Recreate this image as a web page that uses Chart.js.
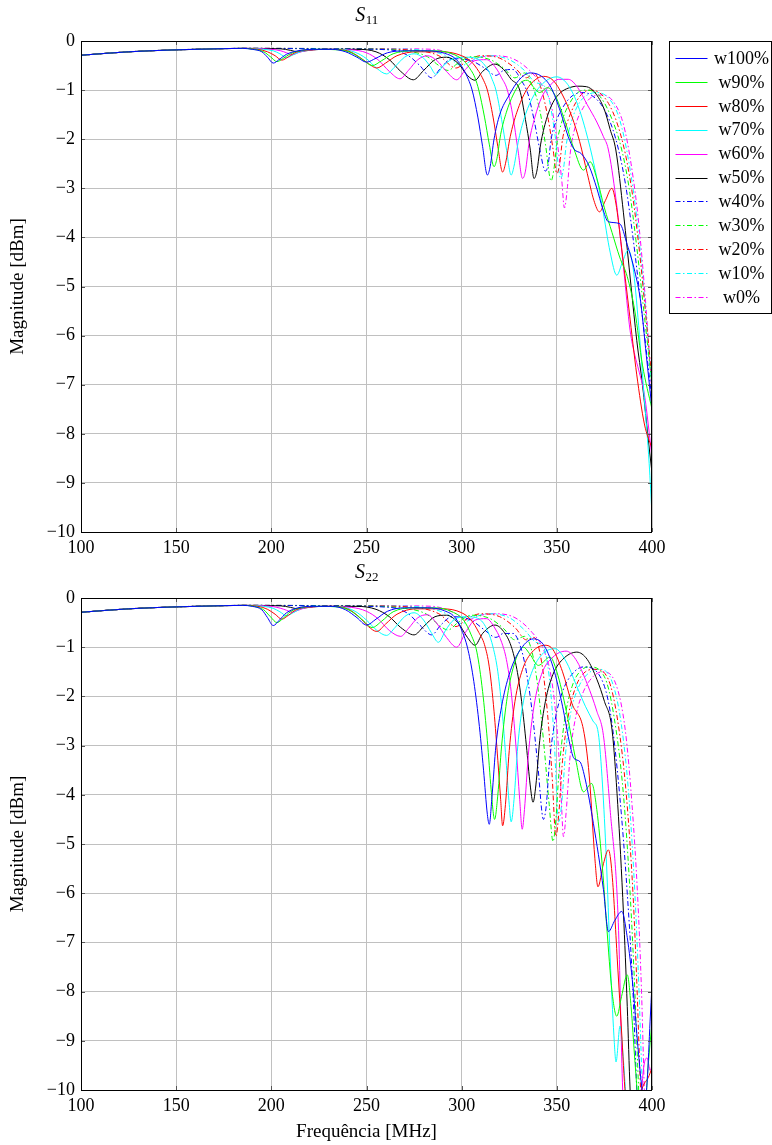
<!DOCTYPE html>
<html>
<head>
<meta charset="utf-8">
<script src="https://cdn.jsdelivr.net/npm/chart.js@4.4.1/dist/chart.umd.min.js"></script>
<style>
    body { margin: 0; background: #fff; }
    #box11 { position: absolute; left: 0; top: 0; width: 772px; height: 560px; }
    #box22 { position: absolute; left: 0; top: 560px; width: 772px; height: 585px; }
</style>
</head>
<body>
<div id="box11"><canvas id="chartS11"></canvas></div>
<div id="box22"><canvas id="chartS22"></canvas></div>
<script>
// axes
const xTicks = [100, 150, 200, 250, 300, 350, 400];
const yTicks = [0, -1, -2, -3, -4, -5, -6, -7, -8, -9, -10];
const seriesNames = ['w100%', 'w90%', 'w80%', 'w70%', 'w60%', 'w50%', 'w40%', 'w30%', 'w20%', 'w10%', 'w0%'];
const seriesColors = ['#0000ff', '#00ff00', '#ff0000', '#00ffff', '#ff00ff', '#000000', '#0000ff', '#00ff00', '#ff0000', '#00ffff', '#ff00ff'];

// common start (100-185 MHz), [freq MHz, dB]
const lowBand = [[100, -0.29], [125, -0.22], [150, -0.18], [175, -0.155], [185, -0.15]];

// S11
const s11W100 = [[190,-0.17],[195,-0.22],[198,-0.33],[201,-0.45],[204,-0.38],[208,-0.27],[214,-0.2],[222,-0.17],[232,-0.17],[239,-0.22],[245,-0.33],[250,-0.43],[255,-0.35],[261,-0.24],[270,-0.2],[282,-0.2],[291,-0.25],[297,-0.37],[301,-0.58],[303.5,-0.78],[305.5,-1.0],[308.5,-1.55],[311,-2.15],[313.5,-2.73],[315,-2.55],[317,-2.0],[320,-1.5],[325,-1.1],[330,-0.8],[336,-0.65],[342,-0.72],[347,-0.95],[352,-1.45],[356,-1.95],[359,-2.2],[363,-2.3],[367,-2.55],[371,-3.0],[374,-3.4],[377,-3.68],[383,-3.72],[387,-4.15],[391,-4.7],[394,-5.3],[397,-6.4],[400,-7.5]];
const s11W90 = [[191,-0.17],[196,-0.22],[199.5,-0.32],[203,-0.42],[206,-0.36],[210,-0.26],[216,-0.19],[225,-0.17],[235,-0.18],[242,-0.24],[248,-0.38],[253,-0.5],[258,-0.4],[264,-0.26],[274,-0.2],[286,-0.2],[295,-0.26],[301,-0.4],[305,-0.6],[307,-0.75],[309,-1.0],[312,-1.55],[314.5,-2.1],[317,-2.56],[318.5,-2.4],[320.5,-1.9],[323.5,-1.45],[327,-1.1],[331,-0.85],[334.5,-0.8],[338,-0.95],[341,-1.05],[345,-0.95],[349,-1.1],[354,-1.6],[359,-2.2],[364,-2.63],[367.5,-2.46],[371,-2.8],[375,-3.4],[379,-3.9],[383,-4.4],[387,-4.8],[391,-5.5],[395,-6.6],[400,-7.5]];
const s11W80 = [[193,-0.17],[198,-0.22],[202,-0.3],[205.5,-0.39],[209,-0.32],[213,-0.23],[220,-0.18],[230,-0.17],[240,-0.2],[246,-0.32],[251,-0.46],[255.4,-0.55],[260,-0.45],[266,-0.3],[276,-0.22],[290,-0.22],[300,-0.3],[305,-0.42],[309,-0.62],[311.5,-0.8],[313.5,-1.0],[316.5,-1.55],[319,-2.15],[321.5,-2.67],[323,-2.5],[325.5,-1.95],[329,-1.45],[334,-1.0],[339,-0.78],[343,-0.72],[348,-0.8],[353,-1.1],[358,-1.55],[362,-2.05],[366,-2.7],[369.5,-3.25],[372.4,-3.48],[375.5,-3.25],[378.9,-3.0],[381,-3.3],[384,-4.2],[388,-5.5],[392,-6.8],[396,-7.8],[400,-8.3]];
const s11W70 = [[196,-0.17],[201,-0.2],[204.5,-0.26],[208,-0.34],[211.5,-0.28],[216,-0.21],[224,-0.17],[236,-0.17],[244,-0.23],[250,-0.36],[255.5,-0.56],[260.5,-0.67],[265,-0.52],[270,-0.33],[275,-0.26],[280,-0.35],[283.5,-0.52],[286.5,-0.68],[290,-0.52],[295,-0.37],[302,-0.33],[309,-0.38],[314,-0.6],[316,-0.78],[318,-1.0],[321,-1.6],[323.5,-2.2],[326,-2.73],[327.5,-2.55],[330,-2.0],[333.5,-1.5],[338,-1.1],[344,-0.82],[350,-0.73],[355,-0.85],[360,-1.2],[365,-1.8],[370,-2.6],[374,-3.4],[378,-4.3],[381.5,-4.77],[384.5,-4.5],[387.5,-4.26],[390,-4.6],[393,-5.8],[396,-7.3],[398.5,-8.6],[400,-9.65]];
const s11W60 = [[200,-0.17],[205,-0.2],[208,-0.24],[211,-0.28],[214,-0.24],[219,-0.19],[228,-0.17],[242,-0.18],[250,-0.24],[256,-0.38],[262,-0.62],[267.6,-0.77],[272,-0.6],[277,-0.38],[282,-0.3],[287,-0.4],[292,-0.62],[297.4,-0.79],[302,-0.58],[307,-0.4],[313,-0.38],[318,-0.55],[321,-0.75],[324,-1.0],[327,-1.55],[329.5,-2.2],[332,-2.8],[333.5,-2.65],[335.5,-2.05],[338.5,-1.55],[342,-1.15],[347,-0.88],[351,-0.78],[356,-0.78],[361,-0.95],[366,-1.3],[371,-1.65],[374.5,-1.95],[377,-2.2],[381,-3.2],[385,-4.6],[388.5,-5.9],[391,-6.4],[393,-6.7],[396,-7.2],[398,-7.8],[400,-8.5]];
const s11W50 = [[205,-0.16],[210,-0.19],[214,-0.22],[218,-0.2],[226,-0.17],[245,-0.17],[255,-0.22],[262,-0.38],[268,-0.62],[274.6,-0.79],[280,-0.6],[286,-0.38],[292,-0.33],[298,-0.45],[303,-0.7],[307,-0.8],[311,-0.62],[317.5,-0.47],[322,-0.58],[326,-0.78],[330.5,-1.0],[333.5,-1.6],[336,-2.2],[338,-2.8],[339.5,-2.65],[341.5,-2.1],[344.5,-1.6],[348,-1.25],[352,-1.05],[356,-0.96],[361,-0.92],[365.5,-0.93],[370,-1.05],[375,-1.4],[378,-1.8],[381,-2.22],[385,-3.5],[389,-5.0],[392,-6.1],[395,-7.0],[398,-8.1],[400,-8.8]];
const s11W40 = [[230,-0.16],[262,-0.18],[272,-0.3],[278,-0.5],[284.3,-0.75],[289,-0.55],[295,-0.36],[305,-0.4],[312,-0.55],[318,-0.7],[322,-0.6],[327,-0.58],[331,-0.78],[335,-1.1],[338,-1.6],[341,-2.2],[344,-2.65],[345.5,-2.5],[347,-2.0],[350,-1.6],[354,-1.3],[358,-1.12],[363,-1.05],[368,-1.1],[375,-1.4],[381,-2.0],[386,-2.9],[390,-4.0],[394,-5.3],[397,-6.3],[400,-7.3]];
const s11W30 = [[240,-0.16],[270,-0.2],[282,-0.32],[288,-0.5],[292.8,-0.6],[298,-0.45],[305,-0.32],[315,-0.38],[322,-0.55],[328,-0.75],[333,-0.65],[337,-0.9],[341,-1.4],[344,-2.1],[347,-2.85],[348.5,-2.6],[350,-2.1],[353,-1.6],[357,-1.25],[361,-1.05],[365,-1.0],[372,-1.1],[378,-1.5],[384,-2.2],[388,-3.0],[392,-4.2],[396,-5.6],[400,-7.0]];
const s11W20 = [[250,-0.16],[275,-0.19],[288,-0.3],[297,-0.55],[303,-0.4],[310,-0.3],[320,-0.35],[328,-0.55],[334,-0.75],[338,-0.65],[342,-1.0],[345.5,-1.6],[348,-2.2],[350,-2.7],[351.5,-2.5],[353,-2.0],[356,-1.6],[360,-1.25],[364,-1.05],[368,-1.0],[375,-1.15],[381,-1.6],[386,-2.3],[390,-3.2],[394,-4.5],[397,-5.7],[400,-6.9]];
const s11W10 = [[260,-0.16],[280,-0.19],[292,-0.3],[300,-0.5],[306,-0.38],[314,-0.3],[325,-0.38],[333,-0.6],[339,-0.85],[343,-0.9],[346,-1.2],[349,-1.9],[352,-2.8],[353.5,-2.6],[355,-2.1],[358,-1.6],[362,-1.25],[366,-1.1],[371,-1.05],[378,-1.2],[383,-1.6],[388,-2.5],[392,-3.6],[396,-5.2],[400,-7.1]];
const s11W0 = [[270,-0.16],[285,-0.17],[296,-0.28],[303,-0.42],[310,-0.33],[318,-0.3],[328,-0.38],[337,-0.65],[343,-0.95],[347,-1.3],[350,-2.0],[352.5,-2.8],[354,-3.4],[355.5,-3.0],[357,-2.3],[360,-1.7],[364,-1.35],[368,-1.15],[374,-1.1],[380,-1.25],[385,-1.7],[389,-2.5],[393,-3.7],[397,-5.5],[400,-7.2]];

// S22
const s22W100 = [[190,-0.17],[195,-0.24],[198,-0.4],[201,-0.56],[204,-0.46],[208,-0.3],[214,-0.2],[222,-0.17],[232,-0.17],[239,-0.24],[245,-0.4],[250,-0.55],[255,-0.43],[261,-0.27],[270,-0.2],[282,-0.2],[291,-0.26],[297,-0.42],[300.5,-0.7],[303,-1.0],[306,-1.6],[309,-2.5],[311.5,-3.5],[313.5,-4.4],[314.5,-4.6],[316,-4.0],[318,-3.0],[321,-2.2],[325,-1.55],[330,-1.1],[337.7,-0.83],[343,-0.95],[348,-1.4],[353,-2.2],[357,-3.0],[359,-3.26],[362.2,-3.33],[365,-3.7],[369.2,-4.58],[374.5,-5.93],[377.1,-6.78],[380.5,-6.55],[384.1,-6.37],[387,-6.9],[390,-7.9],[392,-8.85],[394.5,-9.9],[396,-10.3],[397.5,-9.8],[399,-8.6],[400,-7.85]];
const s22W90 = [[191,-0.17],[196,-0.24],[199.5,-0.38],[203,-0.5],[206,-0.42],[210,-0.28],[216,-0.19],[225,-0.17],[235,-0.18],[242,-0.27],[248,-0.45],[253,-0.6],[258,-0.47],[264,-0.28],[274,-0.2],[286,-0.2],[295,-0.28],[301,-0.45],[305,-0.75],[308,-1.1],[311,-1.9],[313.5,-2.9],[315.5,-3.9],[317.3,-4.5],[319,-4.0],[321,-3.0],[324,-2.0],[328,-1.3],[332.4,-1.0],[336,-1.15],[340.3,-1.37],[346.4,-1.2],[350,-1.5],[355,-2.3],[360,-3.3],[364,-3.94],[368.3,-3.77],[371,-4.3],[374,-5.5],[376.2,-6.67],[379,-8.0],[381.5,-8.5],[384,-8.1],[387,-7.66],[389,-8.3],[391,-9.4],[393,-10.3],[396,-10.5],[398,-9.5],[400,-8.6]];
const s22W80 = [[193,-0.17],[198,-0.23],[202,-0.33],[205.5,-0.43],[209,-0.35],[213,-0.24],[220,-0.18],[230,-0.17],[240,-0.22],[246,-0.38],[251,-0.58],[255.4,-0.68],[260,-0.53],[266,-0.33],[276,-0.22],[290,-0.22],[300,-0.3],[305,-0.45],[309,-0.7],[312,-0.95],[314.5,-1.4],[317,-2.3],[319,-3.3],[320.5,-4.1],[321.5,-4.63],[323,-4.2],[325,-3.1],[328,-2.1],[332,-1.45],[337,-1.1],[343.8,-0.96],[348,-1.05],[353,-1.5],[358,-2.15],[364,-2.68],[367,-3.6],[370,-5.3],[371.6,-5.87],[374.5,-5.4],[377.1,-5.12],[379,-5.6],[382,-7.5],[384,-8.8],[386,-10.1],[388,-10.6],[392,-10.3],[395.5,-9.9],[398,-9.75],[400,-9.55]];
const s22W70 = [[196,-0.17],[201,-0.21],[204.5,-0.28],[208,-0.36],[211.5,-0.3],[216,-0.21],[224,-0.17],[236,-0.18],[244,-0.27],[250,-0.45],[255.5,-0.66],[260.5,-0.76],[265,-0.6],[270,-0.38],[275,-0.3],[280,-0.45],[284,-0.7],[287.8,-0.9],[291.5,-0.66],[296,-0.44],[303,-0.38],[310,-0.45],[314,-0.7],[316.5,-1.0],[319,-1.5],[321.5,-2.4],[323.5,-3.4],[325,-4.2],[326,-4.55],[327.5,-4.1],[329.5,-3.0],[332,-2.2],[336,-1.6],[341,-1.2],[349,-1.03],[355,-1.3],[360,-1.75],[365,-2.2],[369,-2.5],[371.8,-2.75],[374,-3.8],[376,-5.3],[378,-7.3],[380,-8.9],[381.1,-9.43],[383.2,-8.7],[385,-9.4],[386.5,-10.2],[390,-10.8],[400,-11]];
const s22W60 = [[200,-0.17],[205,-0.21],[208,-0.25],[211,-0.29],[214,-0.25],[219,-0.19],[228,-0.17],[242,-0.19],[250,-0.27],[256,-0.42],[262,-0.66],[268,-0.78],[272,-0.62],[277,-0.4],[282,-0.34],[287,-0.52],[292,-0.8],[297.4,-1.0],[302,-0.7],[307,-0.45],[313,-0.42],[318,-0.65],[321,-0.9],[323.5,-1.25],[326,-1.9],[328.5,-3.0],[330.5,-4.1],[331.8,-4.7],[333,-4.3],[335,-3.2],[338,-2.2],[342,-1.55],[348,-1.2],[354.9,-1.08],[360,-1.25],[366,-1.75],[371,-2.3],[374.5,-2.8],[378,-4.3],[382.3,-6.6],[384.6,-10],[386,-10.8],[390,-11],[393.5,-10.4],[396,-9.45],[397.5,-9.35],[399,-9.6],[400,-9.5]];
const s22W50 = [[205,-0.16],[210,-0.19],[214,-0.22],[218,-0.2],[226,-0.17],[245,-0.17],[255,-0.23],[262,-0.38],[268,-0.6],[275,-0.75],[280,-0.58],[286,-0.38],[292,-0.35],[298,-0.5],[303,-0.8],[307,-0.96],[311,-0.72],[317.5,-0.55],[322,-0.68],[326,-0.98],[329,-1.45],[331.5,-2.1],[334,-3.0],[336,-3.8],[337.5,-4.15],[339,-3.8],[341,-2.9],[344,-2.1],[348,-1.55],[353,-1.25],[360.5,-1.1],[366,-1.25],[371,-1.65],[375,-2.1],[379,-2.68],[382,-4.2],[385,-6.4],[387,-8.3],[388.5,-10],[390,-11],[400,-11]];
const s22W40 = [[230,-0.16],[262,-0.19],[272,-0.32],[278,-0.55],[284.3,-0.75],[289,-0.55],[295,-0.38],[305,-0.45],[312,-0.65],[318,-0.8],[322,-0.72],[327,-0.72],[331,-1.0],[334,-1.5],[337,-2.3],[340,-3.4],[343,-4.5],[344.5,-4.2],[346,-3.4],[349,-2.5],[353,-1.9],[358,-1.55],[364,-1.4],[372,-1.55],[378,-2.3],[383,-4.0],[387,-6.0],[390,-8.0],[392,-10],[394,-11.5]];
const s22W30 = [[240,-0.16],[270,-0.21],[282,-0.34],[288,-0.55],[292.8,-0.65],[298,-0.5],[305,-0.35],[315,-0.42],[322,-0.62],[328,-0.85],[333,-0.78],[337,-1.1],[340,-1.8],[343,-2.9],[346,-4.2],[348,-4.95],[349.5,-4.5],[351,-3.6],[354,-2.5],[358,-1.8],[362,-1.5],[367,-1.4],[375,-1.6],[380,-2.4],[385,-4.0],[388.5,-6.0],[391,-8.0],[393,-10],[395,-11.5]];
const s22W20 = [[250,-0.16],[275,-0.19],[288,-0.32],[297,-0.58],[303,-0.42],[310,-0.32],[320,-0.38],[328,-0.6],[334,-0.85],[338,-0.8],[342,-1.3],[345,-2.3],[347.5,-3.6],[349.5,-4.85],[351,-4.4],[353,-3.3],[356,-2.4],[360,-1.8],[365,-1.5],[370,-1.45],[377,-1.65],[382,-2.5],[386.5,-4.0],[390,-6.0],[392,-7.8],[394,-10],[396,-11.5]];
const s22W10 = [[260,-0.16],[280,-0.19],[292,-0.32],[300,-0.52],[306,-0.4],[314,-0.32],[325,-0.4],[333,-0.65],[339,-0.9],[343,-1.0],[346,-1.6],[348.5,-2.8],[351,-4.55],[352.5,-4.2],[354.5,-3.2],[357,-2.4],[361,-1.85],[366,-1.55],[372,-1.45],[379,-1.7],[384,-2.6],[388,-4.1],[391,-6.0],[393,-7.8],[395,-10],[397,-11.5]];
const s22W0 = [[270,-0.16],[285,-0.17],[296,-0.3],[303,-0.45],[310,-0.35],[318,-0.32],[328,-0.4],[337,-0.7],[343,-1.05],[347,-1.6],[350,-2.6],[352,-3.8],[353.5,-4.85],[355,-4.3],[357,-3.2],[360,-2.4],[364,-1.9],[369,-1.6],[374,-1.5],[381,-1.75],[386,-2.7],[389.5,-4.2],[392.5,-6.1],[394.5,-8],[396,-10],[398,-11.5]];

const s11Series = [s11W100, s11W90, s11W80, s11W70, s11W60, s11W50, s11W40, s11W30, s11W20, s11W10, s11W0];
const s22Series = [s22W100, s22W90, s22W80, s22W70, s22W60, s22W50, s22W40, s22W30, s22W20, s22W10, s22W0];

const FONT = '"Liberation Serif", "Times New Roman", serif';
Chart.defaults.font.family = FONT;
Chart.defaults.color = '#000';

function buildDatasets(list) {
    return list.map((pts, i) => ({
        label: seriesNames[i],
        data: lowBand.concat(pts).map(p => ({ x: p[0], y: p[1] })),
        borderColor: seriesColors[i],
        borderWidth: 1,
        borderDash: i >= 6 ? [5, 2.5, 1.5, 2.5] : [],
        pointRadius: 0,
        fill: false,
        cubicInterpolationMode: 'monotone'
    }));
}

function minusTick(v) { return v < 0 ? '\u2212' + Math.abs(v) : String(v); }

// frame, inner tick marks and S_ij title
const frameTitle = {
    id: 'frameTitle',
    afterDraw(chart, args, opts) {
        const { ctx, chartArea: a, scales } = chart;
        ctx.save();
        ctx.setLineDash([]);
        ctx.lineWidth = 1;
        ctx.strokeStyle = '#555';
        ctx.beginPath();
        xTicks.forEach(v => {
            const x = Math.round(scales.x.getPixelForValue(v)) + 0.5;
            ctx.moveTo(x, a.top); ctx.lineTo(x, a.top + 4);
            ctx.moveTo(x, a.bottom); ctx.lineTo(x, a.bottom - 4);
        });
        yTicks.forEach(v => {
            const y = Math.round(scales.y.getPixelForValue(v)) + 0.5;
            ctx.moveTo(a.left, y); ctx.lineTo(a.left + 4, y);
            ctx.moveTo(a.right, y); ctx.lineTo(a.right - 4, y);
        });
        ctx.stroke();
        ctx.strokeStyle = '#000';
        ctx.strokeRect(Math.round(a.left) + 0.5, Math.round(a.top) + 0.5, Math.round(a.right - a.left) - 1, Math.round(a.bottom - a.top));
        ctx.fillStyle = '#000';
        ctx.textBaseline = 'alphabetic';
        ctx.textAlign = 'left';
        ctx.font = 'italic 20px ' + FONT;
        const wS = ctx.measureText('S').width;
        ctx.font = '13px ' + FONT;
        const wSub = ctx.measureText(opts.sub).width;
        const x0 = (a.left + a.right) / 2 - (wS + wSub) / 2;
        const base = a.top - 20;
        ctx.font = 'italic 20px ' + FONT;
        ctx.fillText('S', x0, base);
        ctx.font = '13px ' + FONT;
        ctx.fillText(opts.sub, x0 + wS + 0.5, base + 3);
        ctx.restore();
    }
};

// framed legend to the right of the plot
const boxLegend = {
    id: 'boxLegend',
    afterDraw(chart, args, opts) {
        if (!opts.show) return;
        const { ctx, chartArea: a } = chart;
        const left = Math.round(a.right) + 17.5, top = Math.round(a.top) + 0.5;
        ctx.save();
        ctx.strokeStyle = '#000';
        ctx.lineWidth = 1;
        ctx.setLineDash([]);
        ctx.strokeRect(left, top, 102, 272);
        ctx.font = '18px ' + FONT;
        ctx.textAlign = 'center';
        ctx.textBaseline = 'middle';
        chart.data.datasets.forEach((ds, i) => {
            const y = top + 16.5 + i * 23.9;
            ctx.strokeStyle = ds.borderColor;
            ctx.setLineDash(ds.borderDash);
            ctx.beginPath();
            ctx.moveTo(left + 6, Math.round(y) + 0.5);
            ctx.lineTo(left + 38, Math.round(y) + 0.5);
            ctx.stroke();
            ctx.fillStyle = '#000';
            ctx.fillText(ds.label, left + 72, y + 1);
        });
        ctx.restore();
    }
};

function makeChart(id, list, sub, cfg) {
    return new Chart(document.getElementById(id), {
        type: 'line',
        data: { datasets: buildDatasets(list) },
        plugins: [frameTitle, boxLegend],
        options: {
            animation: false,
            responsive: true,
            maintainAspectRatio: false,
            devicePixelRatio: 1,
            layout: { padding: { left: 0, right: 120, top: cfg.top, bottom: 0 } },
            plugins: {
                legend: { display: false },
                tooltip: { enabled: false },
                frameTitle: { sub: sub },
                boxLegend: { show: cfg.legend }
            },
            scales: {
                x: {
                    type: 'linear', min: 100, max: 400,
                    afterBuildTicks: s => { s.ticks = xTicks.map(v => ({ value: v })); },
                    grid: { color: '#c0c0c0', drawTicks: false },
                    border: { display: false },
                    ticks: { font: { size: 18 }, padding: 5, maxRotation: 0, color: '#000' },
                    title: { display: cfg.xTitle, text: 'Frequência [MHz]', font: { size: 19 }, padding: { top: 0, bottom: 2 } },
                    afterFit: s => { s.height = cfg.xh; }
                },
                y: {
                    type: 'linear', min: -10, max: 0,
                    afterBuildTicks: s => { s.ticks = yTicks.map(v => ({ value: v })); },
                    grid: { color: '#c0c0c0', drawTicks: false },
                    border: { display: false },
                    ticks: { font: { size: 18 }, padding: 6, callback: minusTick, color: '#000' },
                    title: { display: true, text: 'Magnitude [dBm]', font: { size: 19 }, padding: { top: 7, bottom: 0 } },
                    afterFit: s => { s.width = 81; }
                }
            }
        }
    });
}

makeChart('chartS11', s11Series, '11', { top: 41, xh: 28, legend: true, xTitle: false });
makeChart('chartS22', s22Series, '22', { top: 38, xh: 55, legend: false, xTitle: true });
</script>
</body>
</html>
